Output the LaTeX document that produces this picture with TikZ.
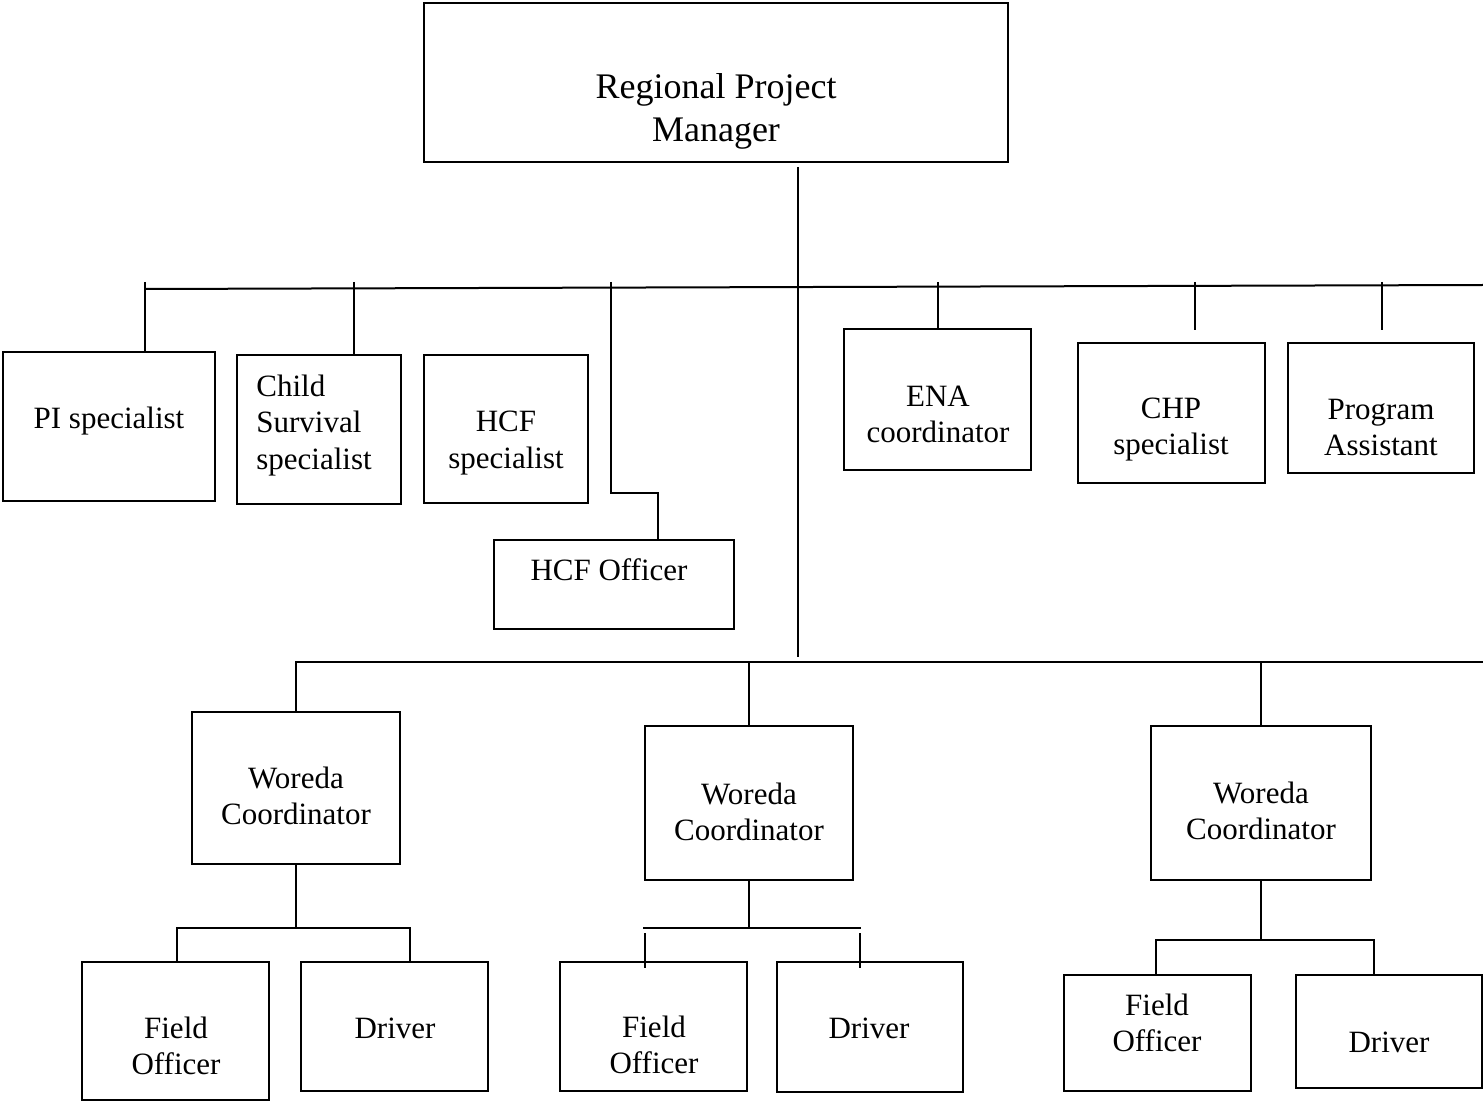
\documentclass[tikz,border=0pt]{standalone}
\usepackage{fontspec}
\setmainfont{Liberation Serif}
\begin{document}
\begin{tikzpicture}[x=0.5pt,y=-0.5pt,
  box/.style={draw,line width=1.1pt,inner sep=0pt,rectangle},
  lbl/.style={inner sep=0pt,align=center,font=\fontsize{15.5pt}{18pt}\selectfont},
  big/.style={inner sep=0pt,align=center,font=\fontsize{18pt}{21.5pt}\selectfont},
  conn/.style={line width=1pt}]
\useasboundingbox (0,0) rectangle (1483,1101);
% boxes
\node[box,minimum width=292pt,minimum height=79.5pt] (rpm) at (716,82.5) {};
\node[box,minimum width=106pt,minimum height=74.5pt] (pi) at (109,426.5) {};
\node[box,minimum width=82pt,minimum height=74.5pt] (cs) at (319,429.5) {};
\node[box,minimum width=82pt,minimum height=74pt] (hcfs) at (506,429) {};
\node[box,minimum width=120pt,minimum height=44.5pt] (hcfo) at (614,584.5) {};
\node[box,minimum width=93.5pt,minimum height=70.5pt] (ena) at (937.5,399.5) {};
\node[box,minimum width=93.5pt,minimum height=70pt] (chp) at (1171.5,413) {};
\node[box,minimum width=93pt,minimum height=65pt] (pa) at (1381,408) {};
\node[box,minimum width=104pt,minimum height=76pt] (w1) at (296,788) {};
\node[box,minimum width=104pt,minimum height=77pt] (w2) at (749,803) {};
\node[box,minimum width=110pt,minimum height=77pt] (w3) at (1261,803) {};
\node[box,minimum width=93.5pt,minimum height=69pt] (fo1) at (175.5,1031) {};
\node[box,minimum width=93.5pt,minimum height=64.5pt] (d1) at (394.5,1026.5) {};
\node[box,minimum width=93.5pt,minimum height=64.5pt] (fo2) at (653.5,1026.5) {};
\node[box,minimum width=93pt,minimum height=65pt] (d2) at (870,1027) {};
\node[box,minimum width=93.5pt,minimum height=58pt] (fo3) at (1157.5,1033) {};
\node[box,minimum width=93pt,minimum height=56.5pt] (d3) at (1389,1031.5) {};
% texts
\node[big] (rpm-t) at (716,111) {\strut Regional Project\\\strut Manager};
\node[lbl] (pi-t) at (109,421.8) {\strut PI specialist};
\node[lbl,align=left,anchor=west] (cs-t) at (256,425.8) {\strut Child\\\strut Survival\\\strut specialist};
\node[lbl] (hcfs-t) at (506,442.8) {\strut HCF\\\strut specialist};
\node[lbl] (hcfo-t) at (609,572.8) {\strut HCF Officer};
\node[lbl] (ena-t) at (938,417.8) {\strut ENA\\\strut coordinator};
\node[lbl] (chp-t) at (1171,429.8) {\strut CHP\\\strut specialist};
\node[lbl] (pa-t) at (1381,430.8) {\strut Program\\\strut Assistant};
\node[lbl] (w1-t) at (296,798.8) {\strut Woreda\\\strut Coordinator};
\node[lbl] (w2-t) at (749,814.8) {\strut Woreda\\\strut Coordinator};
\node[lbl] (w3-t) at (1261,813.8) {\strut Woreda\\\strut Coordinator};
\node[lbl] (fo1-t) at (176,1048.8) {\strut Field\\\strut Officer};
\node[lbl] (d1-t) at (395,1030.8) {\strut Driver};
\node[lbl] (fo2-t) at (654,1047.8) {\strut Field\\\strut Officer};
\node[lbl] (d2-t) at (869,1030.8) {\strut Driver};
\node[lbl] (fo3-t) at (1157,1025.8) {\strut Field\\\strut Officer};
\node[lbl] (d3-t) at (1389,1044.8) {\strut Driver};
% main trunk
\coordinate (v1) at (798,167);
\coordinate (v2) at (798,657);
\draw[conn] (v1) -- (v2);
% upper bus
\coordinate (b1L) at (145,289);
\coordinate (b1R) at (1483,285);
\draw[conn] (b1L) -- (b1R);
\coordinate (tpi) at (145,282);
\draw[conn] (tpi) -- (tpi |- pi.north);
\coordinate (tcs) at (354,282);
\draw[conn] (tcs) -- (tcs |- cs.north);
\coordinate (tho) at (611,282);
\coordinate (hoelb) at (658,493);
\draw[conn] (tho) |- (hoelb) -- (hoelb |- hcfo.north);
\coordinate (tena) at (938,282);
\draw[conn] (tena) -- (tena |- ena.north);
\coordinate (tchp) at (1195,282);
\coordinate (echp) at (1195,330);
\draw[conn] (tchp) -- (echp);
\coordinate (tpa) at (1382,282);
\coordinate (epa) at (1382,330);
\draw[conn] (tpa) -- (epa);
% lower bus
\coordinate (b2L) at (296,662);
\coordinate (b2R) at (1483,662);
\draw[conn] (w1.north) -- (b2L) -- (b2R);
\draw[conn] (w2.north |- b2L) -- (w2.north);
\draw[conn] (w3.north |- b2L) -- (w3.north);
% woreda 1 group
\coordinate (s1) at (296,928);
\coordinate (s1L) at (177,928);
\coordinate (s1R) at (410,928);
\draw[conn] (w1.south) -- (s1);
\draw[conn] (s1L |- fo1.north) -- (s1L) -- (s1R) -- (s1R |- d1.north);
% woreda 2 group
\coordinate (s2) at (749,928);
\coordinate (s2L) at (643,928);
\coordinate (s2R) at (861,928);
\draw[conn] (w2.south) -- (s2);
\draw[conn] (s2L) -- (s2R);
\coordinate (t2a) at (645,933);
\coordinate (t2b) at (645,968);
\coordinate (t2c) at (860,933);
\coordinate (t2d) at (860,968);
\draw[conn] (t2a) -- (t2b);
\draw[conn] (t2c) -- (t2d);
% woreda 3 group
\coordinate (s3) at (1261,940);
\coordinate (s3L) at (1156,940);
\coordinate (s3R) at (1374,940);
\draw[conn] (w3.south) -- (s3);
\draw[conn] (s3L |- fo3.north) -- (s3L) -- (s3R) -- (s3R |- d3.north);
\end{tikzpicture}
\end{document}
